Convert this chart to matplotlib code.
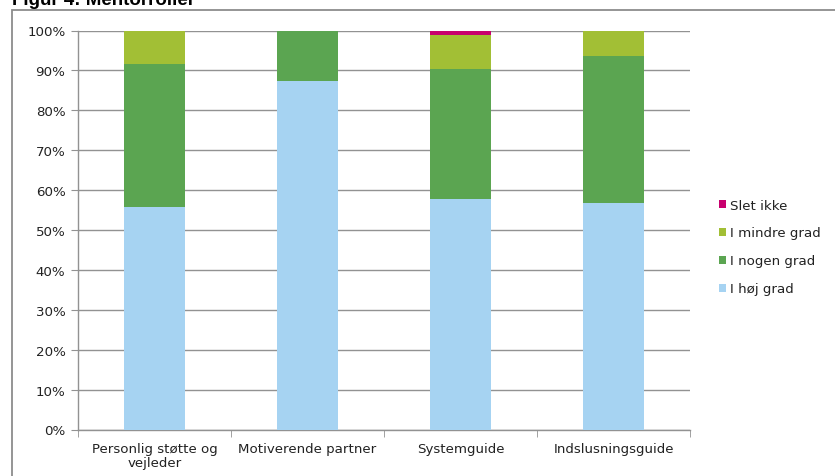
import matplotlib
matplotlib.use("Agg")
import matplotlib.pyplot as plt
from matplotlib.patches import Rectangle
from matplotlib.ticker import PercentFormatter
import numpy as np

categories = ["Personlig støtte og\nvejleder", "Motiverende partner", "Systemguide", "Indslusningsguide"]
series_names = ["I høj grad", "I nogen grad", "I mindre grad", "Slet ikke"]
hoej = [55.8, 87.3, 57.8, 56.8]
nogen = [35.7, 12.7, 32.5, 36.8]
mindre = [8.5, 0.0, 8.6, 6.4]
slet = [0.0, 0.0, 1.1, 0.0]
colors = ["#A6D3F2", "#5BA551", "#A2BF35", "#C8006E"]
y_ticks = [0, 10, 20, 30, 40, 50, 60, 70, 80, 90, 100]

plt.rcParams['font.family'] = ['DejaVu Sans']

fig = plt.figure(figsize=(8.35, 4.77), dpi=100)
W, H = 835, 477

# outer border
fig.patches.append(Rectangle((12 / W, -0.01), 1.0, 1 - 11 / H + 0.01, transform=fig.transFigure,
                             fill=False, edgecolor="#8c8c8c", linewidth=1.3))
fig.text(12 / W, 1 - 5 / H, "Figur 4: Mentorroller", fontsize=13.5, fontweight="bold",
         family=["Liberation Sans", "DejaVu Sans"], ha="left", va="baseline")

ax = fig.add_axes([78 / W, 1 - 430.5 / H, (690 - 78) / W, (430.5 - 31.5) / H])
x = np.arange(len(categories))
bottom = np.zeros(len(categories))
handles = []
for name, vals, c in zip(series_names, [hoej, nogen, mindre, slet], colors):
    b = ax.bar(x, vals, width=0.4, bottom=bottom, color=c, label=name, zorder=3)
    handles.append(b)
    bottom = bottom + np.array(vals)

ax.set_xlim(-0.5, len(categories) - 0.5)
ax.set_ylim(0, 100)
ax.set_yticks(y_ticks)
ax.yaxis.set_major_formatter(PercentFormatter(decimals=0))
ax.grid(axis="y", color="#929292", linewidth=1.0, zorder=0)
ax.set_xticks(x)
ax.set_xticklabels(categories, fontsize=9.6, color="#222222", linespacing=1.15)
ax.set_xticks(np.arange(len(categories) + 1) - 0.5, minor=True)
ax.tick_params(axis="x", which="major", length=0, pad=9)
ax.tick_params(axis="x", which="minor", length=5, color="#929292", direction="out")
ax.tick_params(axis="y", length=5, color="#929292", labelsize=9.6, labelcolor="#222222", pad=4)
for s in ["top", "right"]:
    ax.spines[s].set_visible(False)
for s in ["left", "bottom"]:
    ax.spines[s].set_color("#929292")
    ax.spines[s].set_linewidth(1.0)

leg = fig.legend(handles[::-1], series_names[::-1], loc="upper left",
                 bbox_to_anchor=(719 / W, 1 - 199.5 / H), frameon=False, fontsize=9.6,
                 handlelength=0.55, handleheight=0.55, handletextpad=0.25, labelspacing=1.12,
                 borderaxespad=0, borderpad=0)
for t in leg.get_texts():
    t.set_color("#222222")

fig.savefig("out.png", dpi=100)
